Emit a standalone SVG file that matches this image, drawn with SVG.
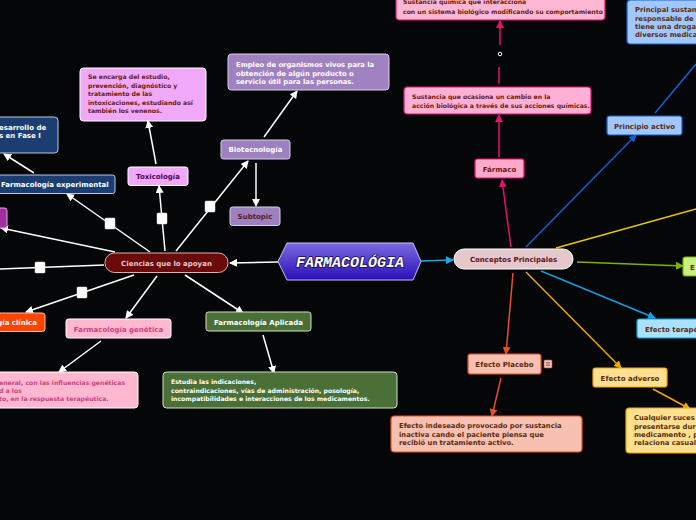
<svg xmlns="http://www.w3.org/2000/svg" width="696" height="520" viewBox="0 0 696 520">
<defs>
<style>
.t{font-family:"DejaVu Sans","Verdana",sans-serif;font-weight:bold;font-size:7px}
.d{font-family:"DejaVu Sans","Verdana",sans-serif;font-weight:bold;font-size:6.15px}
.e{font-family:"DejaVu Sans","Verdana",sans-serif;font-weight:bold;font-size:6.8px}
.m{text-anchor:middle}
.w{stroke:#ffffff;stroke-width:1.5;fill:none}
.sq{fill:#ffffff;stroke:#dddddd;stroke-width:0.5}
</style>
<linearGradient id="hex" x1="0" y1="0" x2="0" y2="1">
<stop offset="0" stop-color="#7a6ae0"/>
<stop offset="1" stop-color="#2a0fb8"/>
</linearGradient>
<marker id="aw" markerWidth="8" markerHeight="8" refX="7" refY="4" orient="auto" markerUnits="userSpaceOnUse"><path d="M0,0 L8,4 L0,8 z" fill="#ffffff"/></marker>
<marker id="ac" markerWidth="8" markerHeight="8" refX="7" refY="4" orient="auto" markerUnits="userSpaceOnUse"><path d="M0,0 L8,4 L0,8 z" fill="#1aa8e8"/></marker>
<marker id="ap" markerWidth="8" markerHeight="8" refX="7" refY="4" orient="auto" markerUnits="userSpaceOnUse"><path d="M0,0 L8,4 L0,8 z" fill="#e8106a"/></marker>
<marker id="ab" markerWidth="8" markerHeight="8" refX="7" refY="4" orient="auto" markerUnits="userSpaceOnUse"><path d="M0,0 L8,4 L0,8 z" fill="#1060d0"/></marker>
<marker id="ag" markerWidth="8" markerHeight="8" refX="7" refY="4" orient="auto" markerUnits="userSpaceOnUse"><path d="M0,0 L8,4 L0,8 z" fill="#80b000"/></marker>
<marker id="at" markerWidth="8" markerHeight="8" refX="7" refY="4" orient="auto" markerUnits="userSpaceOnUse"><path d="M0,0 L8,4 L0,8 z" fill="#10a0e0"/></marker>
<marker id="ao" markerWidth="8" markerHeight="8" refX="7" refY="4" orient="auto" markerUnits="userSpaceOnUse"><path d="M0,0 L8,4 L0,8 z" fill="#f0a800"/></marker>
<marker id="ar" markerWidth="8" markerHeight="8" refX="7" refY="4" orient="auto" markerUnits="userSpaceOnUse"><path d="M0,0 L8,4 L0,8 z" fill="#e85020"/></marker>
</defs>
<rect x="0" y="0" width="696" height="520" fill="#050608"/>

<g id="connectors">
<line x1="278" y1="262" x2="230" y2="263" class="w" marker-end="url(#aw)"/>
<line x1="421" y1="261" x2="453" y2="260" stroke="#1aa8e8" stroke-width="1.5" marker-end="url(#ac)"/>
<line x1="176" y1="251" x2="248" y2="161" class="w" marker-end="url(#aw)"/>
<line x1="264" y1="137" x2="297" y2="91" class="w" marker-end="url(#aw)"/>
<line x1="256" y1="163" x2="256" y2="206" class="w" marker-end="url(#aw)"/>
<line x1="165" y1="251" x2="159" y2="186" class="w" marker-end="url(#aw)"/>
<line x1="156" y1="164" x2="148" y2="121" class="w" marker-end="url(#aw)"/>
<line x1="150" y1="252" x2="67" y2="194" class="w" marker-end="url(#aw)"/>
<line x1="34" y1="173" x2="4" y2="154" class="w" marker-end="url(#aw)"/>
<line x1="115" y1="252" x2="1" y2="228" class="w" marker-end="url(#aw)"/>
<line x1="104" y1="265" x2="0" y2="269" class="w"/>
<line x1="134" y1="275" x2="26" y2="312" class="w" marker-end="url(#aw)"/>
<line x1="157" y1="276" x2="126" y2="318" class="w" marker-end="url(#aw)"/>
<line x1="101" y1="341" x2="59" y2="372" class="w" marker-end="url(#aw)"/>
<line x1="185" y1="275" x2="243" y2="313" class="w" marker-end="url(#aw)"/>
<line x1="263" y1="335" x2="274" y2="373" class="w" marker-end="url(#aw)"/>
<rect x="205" y="201" width="10" height="11" rx="1" class="sq"/>
<rect x="157" y="213" width="10" height="11" rx="1" class="sq"/>
<rect x="105" y="218" width="10" height="11" rx="1" class="sq"/>
<rect x="35" y="262" width="10" height="11" rx="1" class="sq"/>
<rect x="77" y="287" width="10" height="11" rx="1" class="sq"/>
<line x1="511" y1="247" x2="502" y2="180" stroke="#e8106a" stroke-width="1.5" marker-end="url(#ap)"/>
<line x1="499" y1="157" x2="499" y2="115" stroke="#e8106a" stroke-width="1.5" marker-end="url(#ap)"/>
<line x1="499" y1="84" x2="499" y2="67" stroke="#e8106a" stroke-width="1.5"/>
<line x1="500" y1="45" x2="500" y2="21" stroke="#e8106a" stroke-width="1.5" marker-end="url(#ap)"/>
<circle cx="500" cy="54" r="1.8" fill="none" stroke="#ffffff" stroke-width="1"/>
<line x1="526" y1="247" x2="636" y2="135" stroke="#1060d0" stroke-width="1.5" marker-end="url(#ab)"/>
<line x1="655" y1="113" x2="696" y2="64" stroke="#1060d0" stroke-width="1.5"/>
<line x1="556" y1="248" x2="696" y2="209" stroke="#e8c800" stroke-width="1.5"/>
<line x1="577" y1="262" x2="683" y2="266" stroke="#80b000" stroke-width="1.5" marker-end="url(#ag)"/>
<line x1="541" y1="271" x2="655" y2="318" stroke="#10a0e0" stroke-width="1.5" marker-end="url(#at)"/>
<line x1="526" y1="272" x2="621" y2="368" stroke="#f0a800" stroke-width="1.5" marker-end="url(#ao)"/>
<line x1="653" y1="389" x2="690" y2="409" stroke="#f0a800" stroke-width="1.5" marker-end="url(#ao)"/>
<line x1="513" y1="273" x2="506" y2="354" stroke="#e85020" stroke-width="1.5" marker-end="url(#ar)"/>
<line x1="501" y1="378" x2="492" y2="416" stroke="#e85020" stroke-width="1.5" marker-end="url(#ar)"/>
</g>

<g id="farmacologia">
<polygon points="278,261.5 287,243 413,243 421,261.5 413,280 287,280" fill="url(#hex)" stroke="#c8c0f0" stroke-width="1"/>
<text x="350" y="266.5" text-anchor="middle" font-family="Liberation Mono, Courier New, monospace" font-weight="bold" font-style="italic" font-size="15" fill="#ffffff" stroke="#1a0a50" stroke-width="1.6" paint-order="stroke" stroke-linejoin="round">FARMACOLÓGIA</text>
</g>

<g id="ciencias">
<rect x="105" y="253" width="123" height="19.5" rx="9.5" fill="#6b0a0a" stroke="#d8b0b0" stroke-width="1"/>
<text x="166.5" y="265.5" class="t m" fill="#e8c8c8">Ciencias que lo apoyan</text>
</g>

<g id="conceptos">
<rect x="454" y="249" width="119" height="20" rx="10" fill="#e4c8cc" stroke="#ffffff" stroke-width="1"/>
<text x="513.5" y="261.5" class="t m" fill="#5a1020">Conceptos Principales</text>
</g>

<g id="biotecnologia">
<rect x="221" y="140" width="69" height="19" rx="2.5" fill="#9c80c0" stroke="#d8d0e8" stroke-width="1"/>
<text x="255.5" y="152" class="t m" fill="#ffffff">Biotecnología</text>
</g>
<g id="biotec-desc">
<rect x="228" y="54" width="161" height="36" rx="3.5" fill="#a082c0" stroke="#d8d0e8" stroke-width="1"/>
<text class="e" fill="#ffffff"><tspan x="236" y="67">Empleo de organismos vivos para la</tspan><tspan x="236" y="75.5">obtención de algún producto o</tspan><tspan x="236" y="84">servicio útil para las personas.</tspan></text>
</g>
<g id="subtopic">
<rect x="230" y="207" width="50" height="18.5" rx="2.5" fill="#9c80c0" stroke="#d8d0e8" stroke-width="1"/>
<text x="255" y="219" class="t m" fill="#5a2010">Subtopic</text>
</g>
<g id="toxicologia">
<rect x="128" y="167" width="60" height="18.5" rx="2.5" fill="#f0a8f8" stroke="#ffffff" stroke-width="1"/>
<text x="158" y="179" class="t m" fill="#500060">Toxicología</text>
</g>
<g id="toxicologia-desc">
<rect x="80" y="68" width="126" height="53" rx="3.5" fill="#f0a8f8" stroke="#ffffff" stroke-width="1"/>
<text class="d" fill="#6a1a10"><tspan x="88" y="79">Se encarga del estudio,</tspan><tspan x="88" y="87.5">prevención, diagnóstico y</tspan><tspan x="88" y="96">tratamiento de las</tspan><tspan x="88" y="104.5">intoxicaciones, estudiando así</tspan><tspan x="88" y="113">también los venenos.</tspan></text>
</g>
<g id="experimental">
<rect x="-8" y="175" width="123" height="18.5" rx="2.5" fill="#1a3e72" stroke="#c0c8e0" stroke-width="1"/>
<text x="1" y="187" class="t" fill="#ffffff">Farmacología experimental</text>
</g>
<g id="experimental-desc">
<rect x="-8" y="117" width="66" height="36" rx="3.5" fill="#1a3e72" stroke="#c0c8e0" stroke-width="1"/>
<text class="t" fill="#ffffff"><tspan x="-1" y="129.5">esarrollo de</tspan><tspan x="-1" y="138">s en Fase I</tspan></text>
</g>
<g id="purple-node">
<rect x="-10" y="208" width="17" height="20" rx="2.5" fill="#a030a0" stroke="#e0b0e0" stroke-width="1"/>
</g>
<g id="clinica">
<rect x="-10" y="313" width="55" height="18.5" rx="2.5" fill="#ff4400" stroke="#ffc0a0" stroke-width="1"/>
<text x="37" y="325" class="t" text-anchor="end" fill="#ffffff">gía clínica</text>
</g>
<g id="genetica">
<rect x="66" y="319" width="105" height="19" rx="2.5" fill="#ffb8d0" stroke="#ffffff" stroke-width="1"/>
<text x="118.5" y="331.5" class="t m" fill="#d04080">Farmacología genética</text>
</g>
<g id="genetica-desc">
<rect x="-10" y="372" width="148" height="36" rx="3.5" fill="#ffb8d0" stroke="#ffffff" stroke-width="1"/>
<text class="d" fill="#d04080"><tspan x="-1" y="384.5">eneral, con las influencias genéticas</tspan><tspan x="-1" y="392.5">d a los</tspan><tspan x="-1" y="401">to, en la respuesta terapéutica.</tspan></text>
</g>
<g id="aplicada">
<rect x="206" y="312" width="105" height="19" rx="2.5" fill="#4a7038" stroke="#d0e0c8" stroke-width="1"/>
<text x="258.5" y="324.5" class="t m" fill="#ffffff">Farmacología Aplicada</text>
</g>
<g id="aplicada-desc">
<rect x="163" y="372" width="234" height="36" rx="3.5" fill="#4a7038" stroke="#d0e0c8" stroke-width="1"/>
<text class="d" fill="#ffffff"><tspan x="171" y="384">Estudia las indicaciones,</tspan><tspan x="171" y="392.5">contraindicaciones, vías de administración, posología,</tspan><tspan x="171" y="401">incompatibilidades e interacciones de los medicamentos.</tspan></text>
</g>

<g id="farmaco">
<rect x="475" y="159" width="49" height="19" rx="2.5" fill="#ffa8cc" stroke="#e8106a" stroke-width="1.2"/>
<text x="499.5" y="171.5" class="t m" fill="#6a1a10">Fármaco</text>
</g>
<g id="farmaco-desc">
<rect x="404" y="87" width="187" height="27" rx="3.5" fill="#ffb0d4" stroke="#e8106a" stroke-width="1.2"/>
<text class="d" fill="#6a1a10"><tspan x="412" y="99">Sustancia que ocasiona un cambio en la</tspan><tspan x="412" y="108">acción biológica a través de sus acciones químicas.</tspan></text>
</g>
<g id="farmaco-desc2">
<rect x="396" y="-6" width="209" height="26" rx="3.5" fill="#ffb8d4" stroke="#e8106a" stroke-width="1.2"/>
<text class="d" fill="#6a1a10"><tspan x="403" y="4">Sustancia química que interacciona</tspan><tspan x="403" y="13.5">con un sistema biológico modificando su comportamiento</tspan></text>
</g>
<g id="principio">
<rect x="607" y="116" width="75" height="19" rx="2.5" fill="#a0c8ff" stroke="#1060d0" stroke-width="1.2"/>
<text x="644.5" y="128.5" class="t m" fill="#5a2a10">Principio activo</text>
</g>
<g id="principio-desc">
<rect x="627" y="0" width="80" height="44" rx="3.5" fill="#a0c8ff" stroke="#1060d0" stroke-width="1.2"/>
<text class="e" fill="#5a2a10"><tspan x="635" y="12">Principal sustan</tspan><tspan x="635" y="20.5">responsable de</tspan><tspan x="635" y="29">tiene una droga</tspan><tspan x="635" y="37">diversos medica</tspan></text>
</g>
<g id="green-node">
<rect x="683" y="257" width="20" height="19" rx="2.5" fill="#c8f080" stroke="#80b000" stroke-width="1.2"/>
<text x="690" y="269.5" class="t" fill="#5a2a10">E</text>
</g>
<g id="terapeutico">
<rect x="637" y="319" width="66" height="19" rx="2.5" fill="#a8e2ff" stroke="#10a0e0" stroke-width="1.2"/>
<text x="645" y="331.5" class="t" fill="#5a2a10">Efecto terapé</text>
</g>
<g id="adverso">
<rect x="593" y="368" width="74" height="19" rx="2.5" fill="#ffe090" stroke="#f0a800" stroke-width="1.2"/>
<text x="630" y="380.5" class="t m" fill="#5a2a10">Efecto adverso</text>
</g>
<g id="adverso-desc">
<rect x="626" y="408" width="80" height="45" rx="3.5" fill="#ffe090" stroke="#f0a800" stroke-width="1.2"/>
<text class="e" fill="#5a2a10"><tspan x="634" y="420">Cualquier suces</tspan><tspan x="634" y="428.5">presentarse dur</tspan><tspan x="634" y="437">medicamento , p</tspan><tspan x="634" y="445">relaciona casual</tspan></text>
</g>
<g id="placebo">
<rect x="468" y="354" width="73" height="20" rx="2.5" fill="#f8c0b0" stroke="#e85020" stroke-width="1.2"/>
<text x="504.5" y="367" class="t m" fill="#5a2a10">Efecto Placebo</text>
<rect x="544" y="360" width="8" height="8" rx="1" fill="#f8c0b0" stroke="#a06050" stroke-width="0.6"/>
<path d="M546,362.5 H550 M546,364 H550 M546,365.5 H550" stroke="#804030" stroke-width="0.6"/>
</g>
<g id="placebo-desc">
<rect x="391" y="416" width="191" height="36" rx="3.5" fill="#f8c0b0" stroke="#e85020" stroke-width="1.2"/>
<text class="e" fill="#5a2a10"><tspan x="399" y="428">Efecto indeseado provocado por sustancia</tspan><tspan x="399" y="437">inactiva cando el paciente piensa que</tspan><tspan x="399" y="445">recibió un tratamiento activo.</tspan></text>
</g>
</svg>
